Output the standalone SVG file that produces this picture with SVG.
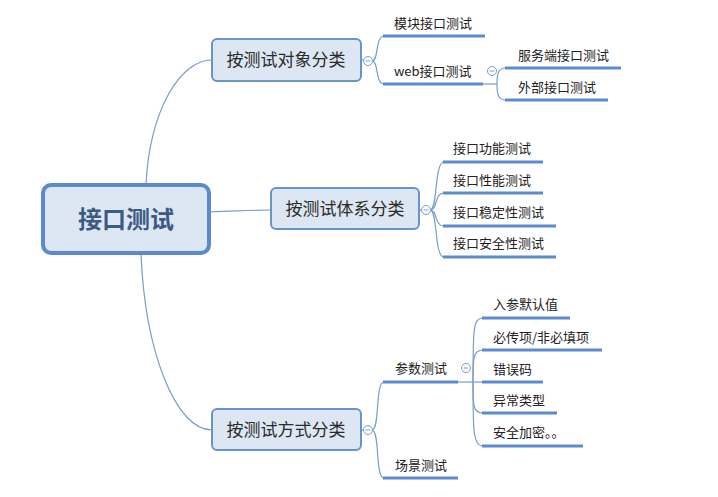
<svg xmlns="http://www.w3.org/2000/svg" width="718" height="497" viewBox="0 0 718 497">
<style>
.t{font-family:"Noto Sans CJK SC","Liberation Sans",sans-serif;fill:#222;}
.leaf{font-size:13px;}
.mid{font-size:17px;text-anchor:middle;fill:#2a2a2a;}
.root{font-size:24px;font-weight:bold;text-anchor:middle;fill:#3d5a85;}
.box{fill:#dde7f4;stroke:#6a93cc;stroke-width:2;}
.ul{stroke:#5b8ad0;stroke-width:3;fill:none;}
.c{stroke:#7b9dcb;stroke-width:1.2;fill:none;}
.col{fill:#fff;stroke:#7b9dcb;stroke-width:1;}
.minus{stroke:#7b9dcb;stroke-width:1;}
</style>
<rect width="718" height="497" fill="#fff"/>
<g id="connectors">
<path class="c" d="M146,184 C150,110 180,60 212,60"/>
<path class="c" d="M141,254 C145,350 175,430 212,430"/>
<path class="c" d="M210,212 C240,211 250,210 271,210"/>
<path class="c" d="M361,60 L364,60"/>
<path class="c" d="M361,430 L364,430"/>
<path class="c" d="M419,210 L422,210"/>
<path class="c" d="M372,61 C379,61 375,36 384,36"/>
<path class="c" d="M372,61 C379,61 375,84 384,84"/>
<path class="c" d="M483,84 L497,84"/>
<path class="c" d="M497,84 C497,72 499,68 506,68"/>
<path class="c" d="M497,84 C497,96 499,100 506,100"/>
<path class="c" d="M430,210 C438,210 434,162 444,162"/>
<path class="c" d="M430,210 C438,210 434,193 444,193"/>
<path class="c" d="M430,210 C438,210 434,226 444,226"/>
<path class="c" d="M430,210 C438,210 434,257 444,257"/>
<path class="c" d="M372,430 C380,430 375,382 384,382"/>
<path class="c" d="M372,430 C380,430 375,478 384,478"/>
<path class="c" d="M458,382 L483,382"/>
<path class="c" d="M473,382 C473,330 473,318 483,318"/>
<path class="c" d="M473,382 C473,358 473,350 483,350"/>
<path class="c" d="M473,382 C473,406 473,413 483,413"/>
<path class="c" d="M473,382 C473,430 473,446 483,446"/>
</g>
<g id="root">
<rect x="43" y="185" width="166" height="68" rx="8" fill="#dde7f4" stroke="#5b8ad0" stroke-width="4"/>
<text class="t root" x="126" y="228">接口测试</text>
</g>
<g id="n1">
<rect class="box" x="212" y="39" width="149" height="42" rx="5"/>
<text class="t mid" x="286" y="66">按测试对象分类</text>
<circle class="col" cx="368" cy="61" r="4.5"/><line class="minus" x1="365.5" y1="61" x2="370.5" y2="61"/>
</g>
<g id="n2">
<rect class="box" x="271" y="188" width="148" height="41" rx="5"/>
<text class="t mid" x="345" y="215">按测试体系分类</text>
<circle class="col" cx="426" cy="210" r="4.5"/><line class="minus" x1="423.5" y1="210" x2="428.5" y2="210"/>
</g>
<g id="n3">
<rect class="box" x="212" y="409" width="149" height="41" rx="5"/>
<text class="t mid" x="286" y="436">按测试方式分类</text>
<circle class="col" cx="368" cy="430" r="4.5"/><line class="minus" x1="365.5" y1="430" x2="370.5" y2="430"/>
</g>
<g id="l1"><path class="ul" d="M383,36 H485"/><text class="t leaf" x="394" y="28">模块接口测试</text></g>
<g id="l2"><path class="ul" d="M383,84 H483"/><text class="t leaf" x="394" y="76">web接口测试</text>
<circle class="col" cx="492" cy="71" r="4.5"/><line class="minus" x1="489.5" y1="71" x2="494.5" y2="71"/></g>
<g id="l2a"><path class="ul" d="M505,68 H621"/><text class="t leaf" x="518" y="60">服务端接口测试</text></g>
<g id="l2b"><path class="ul" d="M505,100 H608"/><text class="t leaf" x="518" y="92">外部接口测试</text></g>
<g id="l3"><path class="ul" d="M443,162 H543"/><text class="t leaf" x="453" y="153">接口功能测试</text></g>
<g id="l4"><path class="ul" d="M443,193 H543"/><text class="t leaf" x="453" y="185">接口性能测试</text></g>
<g id="l5"><path class="ul" d="M443,226 H556"/><text class="t leaf" x="453" y="217">接口稳定性测试</text></g>
<g id="l6"><path class="ul" d="M443,257 H556"/><text class="t leaf" x="453" y="248">接口安全性测试</text></g>
<g id="l7"><path class="ul" d="M383,382 H458"/><text class="t leaf" x="395" y="373">参数测试</text>
<circle class="col" cx="466" cy="368" r="4.5"/><line class="minus" x1="463.5" y1="368" x2="468.5" y2="368"/></g>
<g id="l8"><path class="ul" d="M383,478 H458"/><text class="t leaf" x="395" y="470">场景测试</text></g>
<g id="l7a"><path class="ul" d="M482,318 H570"/><text class="t leaf" x="493" y="309">入参默认值</text></g>
<g id="l7b"><path class="ul" d="M482,350 H602"/><text class="t leaf" x="493" y="342">必传项/非必填项</text></g>
<g id="l7c"><path class="ul" d="M482,382 H543"/><text class="t leaf" x="493" y="374">错误码</text></g>
<g id="l7d"><path class="ul" d="M482,413 H557"/><text class="t leaf" x="493" y="405">异常类型</text></g>
<g id="l7e"><path class="ul" d="M482,446 H583"/><text class="t leaf" x="493" y="437">安全加密。。</text></g>
</svg>
